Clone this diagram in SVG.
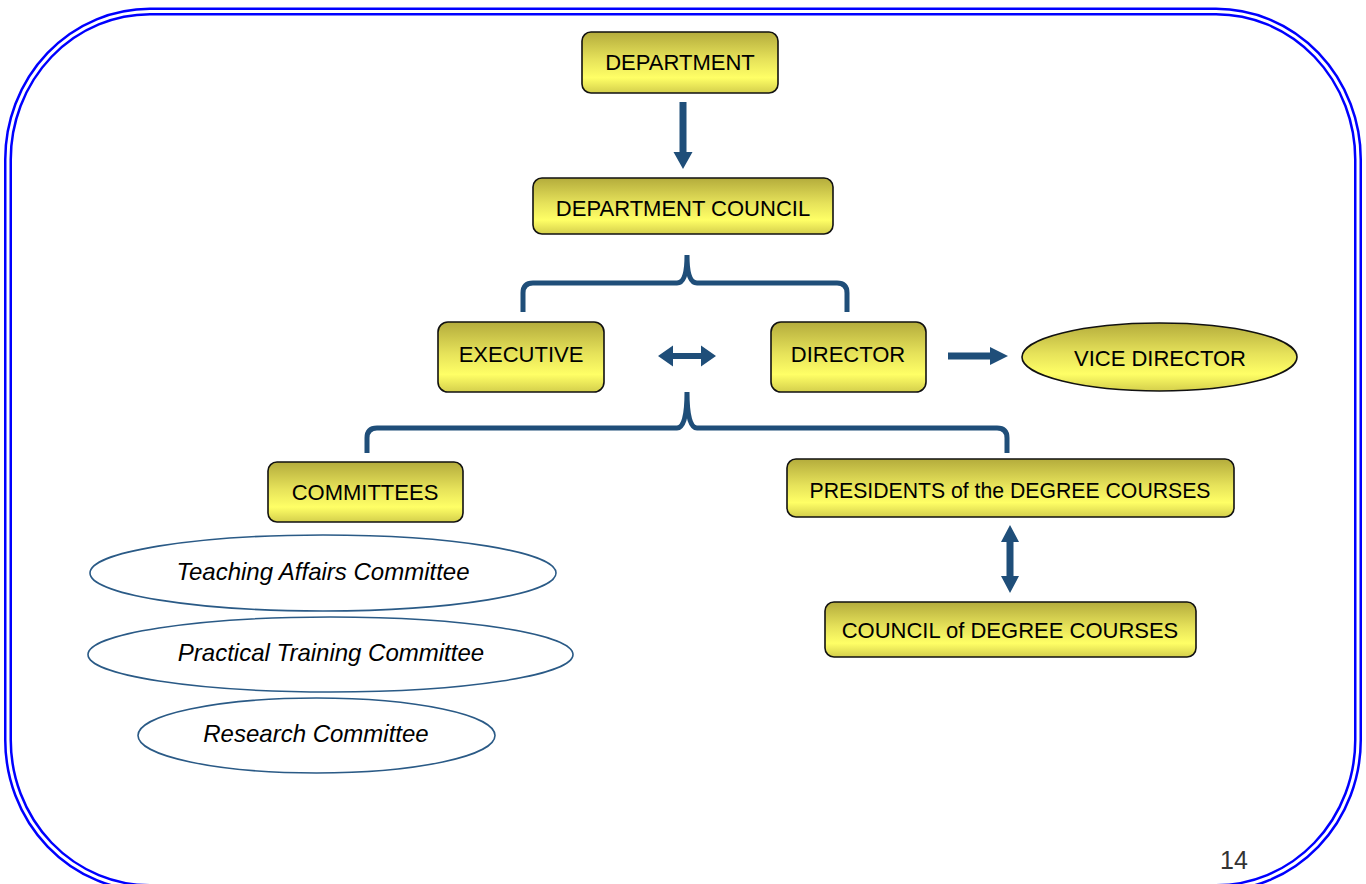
<svg xmlns="http://www.w3.org/2000/svg" width="1366" height="884" viewBox="0 0 1366 884">
<style>
.box{fill:url(#yg);stroke:#111;stroke-width:1.6}
.bt{font-family:"Liberation Sans",Arial,sans-serif;font-size:22px;fill:#000;text-anchor:middle}
.ct{font-family:"Liberation Sans",Arial,sans-serif;font-size:24px;font-style:italic;fill:#000;text-anchor:middle}
.cel{fill:#fff;stroke:#2a5a86;stroke-width:1.6}
.arr{fill:#1F4E79}
.brace{fill:none;stroke:#1F4E79;stroke-width:5}
</style>
<defs>
<linearGradient id="yg" x1="0" y1="0" x2="0" y2="1">
<stop offset="0" stop-color="#b4ac3c"/>
<stop offset="0.45" stop-color="#e6e25a"/>
<stop offset="0.75" stop-color="#ffff66"/>
<stop offset="1" stop-color="#d4cf4c"/>
</linearGradient>
</defs>
<rect width="1366" height="884" fill="#fff"/>
<g id="frame">
<rect x="8" y="11.5" width="1350" height="876.5" rx="142" ry="148" fill="none" stroke="#0000ff" stroke-width="8"/>
<rect x="8" y="11.5" width="1350" height="876.5" rx="142" ry="148" fill="none" stroke="#fff" stroke-width="3"/>
</g>
<g id="connectors">
<polygon class="arr" points="679.5,102 686.5,102 686.5,152 692.5,152 683,169 673.5,152 679.5,152"/>
<path class="brace" d="M523,312 V293 Q523,283 533,283 H677 Q687,283 687,255 Q687,283 697,283 H837 Q847,283 847,293 V312"/>
<polygon class="arr" points="658,356 673,345.5 673,353 701,353 701,345.5 716,356 701,366.5 701,359 673,359 673,366.5"/>
<polygon class="arr" points="948,352.5 990,352.5 990,347 1008,356 990,365 990,359.5 948,359.5"/>
<path class="brace" d="M367,453 V438 Q367,428 377,428 H677 Q687,428 687,392 Q687,428 697,428 H997 Q1007,428 1007,438 V453"/>
<polygon class="arr" points="1010,525 1019,542 1013.5,542 1013.5,576 1019,576 1010,593 1001,576 1006.5,576 1006.5,542 1001,542"/>
</g>
<g id="department">
<rect class="box" x="582" y="32" width="196" height="61" rx="9"/>
<text class="bt" x="680" y="70">DEPARTMENT</text>
</g>
<g id="department-council">
<rect class="box" x="533" y="178" width="300" height="56" rx="9"/>
<text class="bt" x="683" y="216">DEPARTMENT COUNCIL</text>
</g>
<g id="executive">
<rect class="box" x="438" y="322" width="166" height="70" rx="10"/>
<text class="bt" x="521" y="362">EXECUTIVE</text>
</g>
<g id="director">
<rect class="box" x="771" y="322" width="155" height="70" rx="10"/>
<text class="bt" x="848" y="362">DIRECTOR</text>
</g>
<g id="vice-director">
<ellipse class="box" cx="1159.5" cy="357" rx="137.5" ry="34"/>
<text class="bt" x="1160" y="366">VICE DIRECTOR</text>
</g>
<g id="committees">
<rect class="box" x="268" y="462" width="195" height="60" rx="9"/>
<text class="bt" x="365" y="500">COMMITTEES</text>
</g>
<g id="presidents">
<rect class="box" x="787" y="459" width="447" height="58" rx="9"/>
<text class="bt" x="1010" y="498" textLength="401" lengthAdjust="spacingAndGlyphs">PRESIDENTS of the DEGREE COURSES</text>
</g>
<g id="council-degree">
<rect class="box" x="825" y="602" width="371" height="55" rx="9"/>
<text class="bt" x="1010" y="638">COUNCIL of DEGREE COURSES</text>
</g>
<g id="teaching">
<ellipse class="cel" cx="323" cy="573" rx="233" ry="38"/>
<text class="ct" x="323" y="580">Teaching Affairs Committee</text>
</g>
<g id="practical">
<ellipse class="cel" cx="330.5" cy="654.5" rx="242.5" ry="37.5"/>
<text class="ct" x="331" y="661">Practical Training Committee</text>
</g>
<g id="research">
<ellipse class="cel" cx="316.5" cy="735.5" rx="178.5" ry="37.5"/>
<text class="ct" x="316" y="742">Research Committee</text>
</g>
<text x="1234" y="869" font-family="'Liberation Sans',Arial,sans-serif" font-size="25" fill="#333" text-anchor="middle">14</text>
</svg>
